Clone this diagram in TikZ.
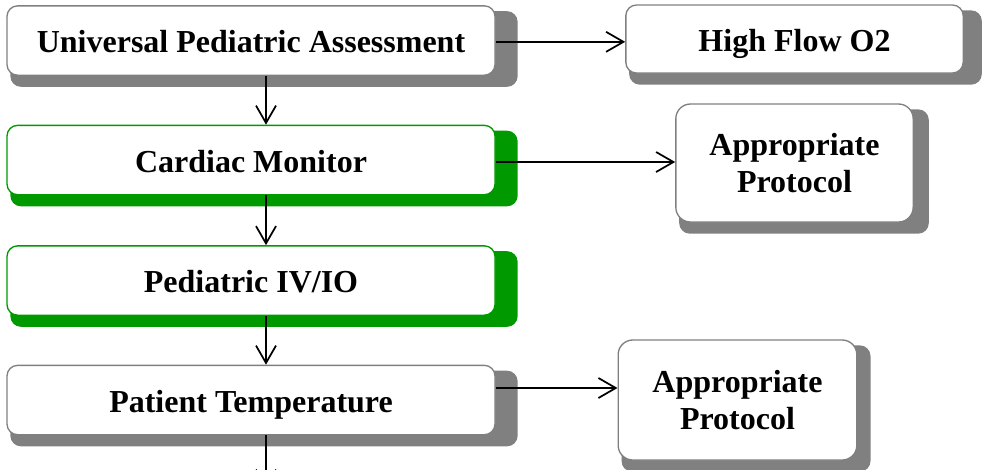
\documentclass[tikz,border=0pt]{standalone}
\usepackage{fontspec}
\setmainfont{Liberation Serif}
\usepackage{xcolor}
\usetikzlibrary{arrows.meta,calc,backgrounds}
\definecolor{boxgray}{HTML}{808080}
\definecolor{leafgreen}{HTML}{009900}

\begin{document}
\begin{tikzpicture}[x=0.75pt,y=-0.75pt,>={Straight Barb[length=13pt,width=15pt]},
  box/.style={draw=boxgray,line width=1pt,fill=white,rounded corners=8pt,inner sep=0pt,
    align=center,font=\fontsize{24}{28}\selectfont\bfseries},
  wide/.style={box,minimum width=366pt,minimum height=52pt,text height=19pt,text depth=1pt},
  greenbox/.style={wide,draw=leafgreen},
  side/.style={box,rounded corners=11pt},
  arr/.style={->,line width=1.3pt}]
\useasboundingbox (0,0) rectangle (986,469);
% main column
\node[wide] (upa) at (251,40.5) {Universal Pediatric Assessment};
\node[greenbox] (cm) at (251,160) {Cardiac Monitor};
\node[greenbox] (iv) at (251,280.5) {Pediatric IV/IO};
\node[wide] (pt) at (251,400) {Patient Temperature};
% right column
\node[side,minimum width=253pt,minimum height=51pt,rounded corners=8pt,text height=19pt,text depth=1pt] (hf) at (794.5,39) {High Flow O2};
\node[side,minimum width=178pt,minimum height=88.5pt] (apa) at (794.5,163) {Appropriate\\Protocol};
\node[side,minimum width=179pt,minimum height=90pt] (apb) at (737.5,400) {Appropriate\\Protocol};
\coordinate (next) at ([xshift=11.25pt,yshift=-40pt]pt.south);
% shadows
\begin{scope}[on background layer]
\foreach \n/\c/\dx in {upa/boxgray/22,cm/leafgreen/22,iv/leafgreen/22,pt/boxgray/22,hf/boxgray/18,apa/boxgray/15,apb/boxgray/13}
  \fill[\c,rounded corners=8pt] ($(\n.south west)+(4,11)$) rectangle ($(\n.north east)+(\dx,6)$);
\end{scope}
% arrows
\draw[arr] ([xshift=11.25pt]upa.south) -- ([xshift=11.25pt]cm.north);
\draw[arr] ([xshift=11.25pt]cm.south) -- ([xshift=11.25pt]iv.north);
\draw[arr] ([xshift=11.25pt]iv.south) -- ([xshift=11.25pt]pt.north);
\draw[arr] ([xshift=11.25pt]pt.south) -- (next);
\draw[arr] ([yshift=-1pt]upa.east) -- ([yshift=-1pt]upa.east -| hf.west);
\draw[arr] ([yshift=-1.5pt]cm.east) -- ([yshift=-1.5pt]cm.east -| apa.west);
\draw[arr] ([yshift=9pt]pt.east) -- ([yshift=9pt]pt.east -| apb.west);
\end{tikzpicture}
\end{document}
